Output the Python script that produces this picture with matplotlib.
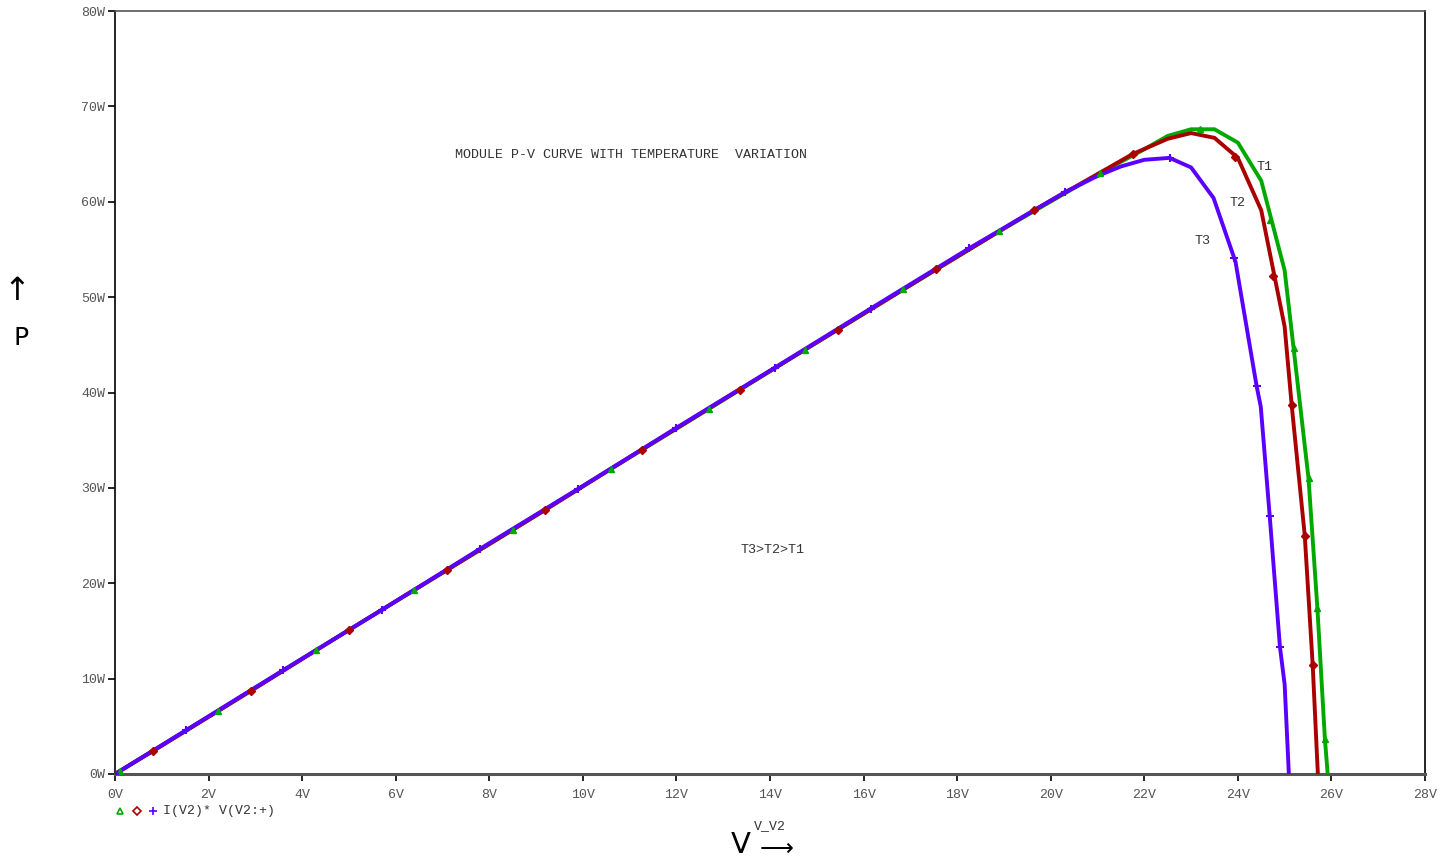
"""
Module P-V curve with temperature variation (PSpice style plot).
"""

import numpy as np
import matplotlib.pyplot as plt
from matplotlib.lines import Line2D

# T1 curve (green), vertices
v_t1 = [0, 0.1, 2.2, 4.3, 6.4, 8.5, 10.6, 12.7, 14.75, 16.85, 18.9, 21.05,
        22.0, 22.5, 23.0, 23.5, 24.0, 24.5, 25.0, 25.19, 25.51, 25.7, 25.86, 25.92]
p_t1 = [0, 0.3, 6.6, 13.0, 19.3, 25.6, 32.0, 38.3, 44.5, 50.8, 56.9, 63.0,
        65.5, 66.9, 67.6, 67.6, 66.2, 62.2, 52.8, 44.7, 31.0, 17.4, 3.7, 0]

# T2 curve (red)
v_t2 = [0, 0.81, 2.9, 5.0, 7.1, 9.2, 11.26, 13.35, 15.45, 17.55, 19.64, 21.75,
        22.5, 23.0, 23.5, 24.0, 24.5, 25.0, 25.15, 25.43, 25.6, 25.71]
p_t2 = [0, 2.4, 8.7, 15.1, 21.4, 27.7, 34.0, 40.3, 46.6, 52.9, 59.1, 65.0,
        66.6, 67.2, 66.7, 64.6, 59.1, 46.9, 38.7, 25.0, 11.4, 0]

# T3 curve (purple)
v_t3 = [0, 1.52, 3.6, 5.7, 7.8, 9.9, 12.0, 14.1, 16.15, 18.25, 20.3, 21.0,
        21.5, 22.0, 22.54, 23.0, 23.48, 23.95, 24.4, 24.49, 24.68, 24.9, 25.0, 25.09]
p_t3 = [0, 4.6, 10.9, 17.2, 23.6, 29.9, 36.3, 42.6, 48.8, 55.1, 61.0, 62.7,
        63.7, 64.4, 64.6, 63.6, 60.4, 53.7, 40.7, 38.5, 27.1, 13.3, 9.4, 0]

# marker points (PSpice puts a symbol every few data points)
mv_t1 = [0.1, 2.2, 4.3, 6.4, 8.5, 10.6, 12.7, 14.75, 16.85, 18.9, 21.05, 23.2,
         24.68, 25.19, 25.51, 25.7, 25.86]
mp_t1 = [0.3, 6.6, 13.0, 19.3, 25.6, 32.0, 38.3, 44.5, 50.8, 56.9, 63.0, 67.6,
         58.1, 44.7, 31.0, 17.4, 3.7]
mv_t2 = [0.81, 2.9, 5.0, 7.1, 9.2, 11.26, 13.35, 15.45, 17.55, 19.64, 21.75,
         23.93, 24.75, 25.15, 25.43, 25.6]
mp_t2 = [2.4, 8.7, 15.1, 21.4, 27.7, 34.0, 40.3, 46.6, 52.9, 59.1, 65.0,
         64.7, 52.2, 38.7, 25.0, 11.4]
mv_t3 = [0.0, 1.52, 3.6, 5.7, 7.8, 9.9, 12.0, 14.1, 16.15, 18.25, 20.3, 22.54,
         23.92, 24.4, 24.68, 24.9]
mp_t3 = [0.0, 4.6, 10.9, 17.2, 23.6, 29.9, 36.3, 42.6, 48.8, 55.1, 61.0, 64.6,
         54.1, 40.7, 27.1, 13.3]

x_ticks = list(range(0, 30, 2))
y_ticks = list(range(0, 90, 10))
x_labels = [f'{v}V' for v in x_ticks]
y_labels = [f'{p}W' for p in y_ticks]

GREEN = '#00a800'
RED = '#aa0000'
PURPLE = '#5a00ff'
MONO = 'Liberation Mono'
GREY = '#555555'

fig = plt.figure(figsize=(14.44, 8.6), dpi=100)
ax = fig.add_axes([115 / 1444, 86 / 860, 1310 / 1444, 763 / 860])

ax.plot(v_t1, p_t1, color=GREEN, lw=2.8, solid_joinstyle='miter', zorder=3)
ax.plot(v_t2, p_t2, color=RED, lw=2.8, solid_joinstyle='miter', zorder=4)
ax.plot(v_t3, p_t3, color=PURPLE, lw=2.8, solid_joinstyle='miter', zorder=5)
ax.plot(mv_t1, mp_t1, ls='none', marker='^', ms=5, color=GREEN, zorder=6)
ax.plot(mv_t2, mp_t2, ls='none', marker='D', ms=4, color=RED, zorder=6)
ax.plot(mv_t3, mp_t3, ls='none', marker='+', ms=6, mew=1.5, color=PURPLE, zorder=6)

ax.set_xlim(0, 28)
ax.set_ylim(0, 80)
ax.set_xticks(x_ticks)
ax.set_xticklabels(x_labels)
ax.set_yticks(y_ticks)
ax.set_yticklabels(y_labels)
ax.tick_params(axis='both', direction='out', length=5, width=1.2, colors='black',
               labelcolor=GREY, labelsize=9.5)
ax.tick_params(axis='x', pad=6)
ax.tick_params(axis='y', pad=2)
for lab in ax.get_xticklabels() + ax.get_yticklabels():
    lab.set_fontfamily(MONO)

ax.spines['left'].set_color('black')
ax.spines['left'].set_linewidth(1.2)
ax.spines['right'].set_color('black')
ax.spines['right'].set_linewidth(1.2)
ax.spines['bottom'].set_color(GREY)
ax.spines['bottom'].set_linewidth(2.2)
ax.spines['top'].set_color(GREY)
ax.spines['top'].set_linewidth(1.2)

# annotations inside the plot
ax.text(7.27, 64.9, 'MODULE P-V CURVE WITH TEMPERATURE  VARIATION', family=MONO,
        fontsize=9.6, color='#333333', va='center', ha='left')
ax.text(14.06, 23.5, 'T3>T2>T1', family=MONO, fontsize=9.6, color='#333333',
        va='center', ha='center')
ax.text(24.39, 63.6, 'T1', family=MONO, fontsize=9.6, color='#333333', va='center')
ax.text(23.83, 59.9, 'T2', family=MONO, fontsize=9.6, color='#333333', va='center')
ax.text(23.08, 55.9, 'T3', family=MONO, fontsize=9.6, color='#333333', va='center')

# axis labels in the PSpice style
fig.text(17 / 1444, 1 - 291 / 860, '\u2191', fontsize=23, ha='center', va='center')
fig.text(21 / 1444, 1 - 338 / 860, 'P', fontsize=18, ha='center', va='center')
fig.text(741 / 1444, 1 - 845 / 860, 'V', fontsize=21, ha='center', va='center')
fig.text(770 / 1444, 1 - 826 / 860, 'V_V2', family=MONO, fontsize=9.5,
         color='#333333', ha='center', va='center')
fig.text(777 / 1444, 1 - 849 / 860, '\u27f6', fontsize=17, ha='center', va='center')

# legend row under the axis
fig.add_artist(Line2D([120 / 1444], [1 - 811 / 860], marker='^', ms=5,
                      mfc='none', mec=GREEN, mew=1.2, transform=fig.transFigure))
fig.add_artist(Line2D([137 / 1444], [1 - 811 / 860], marker='D', ms=4,
                      mfc='none', mec=RED, mew=1.2, transform=fig.transFigure))
fig.add_artist(Line2D([153 / 1444], [1 - 811 / 860], marker='+', ms=6,
                      mec=PURPLE, mew=1.2, transform=fig.transFigure))
fig.text(163 / 1444, 1 - 811 / 860, 'I(V2)* V(V2:+)', family=MONO, fontsize=9.5,
         color='#333333', ha='left', va='center')

fig.savefig('out.png', dpi=100)
